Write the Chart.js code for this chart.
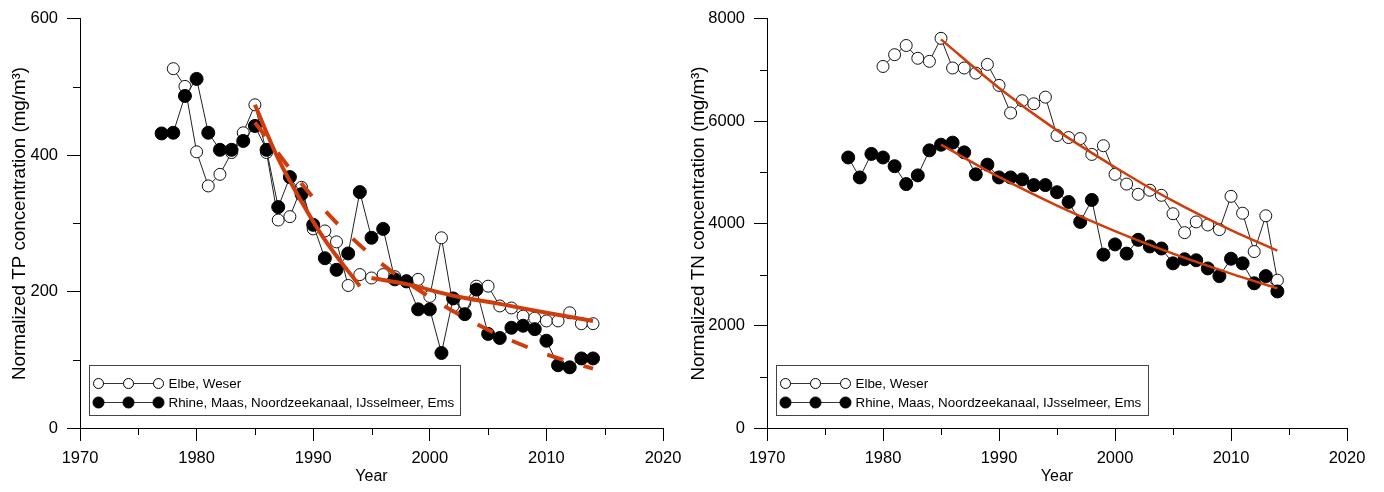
<!DOCTYPE html>
<html>
<head>
<meta charset="utf-8">
<script src="https://cdn.jsdelivr.net/npm/chart.js@4.4.1/dist/chart.umd.min.js"></script>
<style>
  html, body { margin: 0; padding: 0; background: #fff; }
  body { width: 1384px; height: 492px; position: relative; overflow: hidden; }
  canvas { position: absolute; top: 0; }
  #tp { left: 0px; }
  #tn { left: 680px; }
</style>
</head>
<body>
<canvas id="tp" width="690" height="492"></canvas>
<canvas id="tn" width="704" height="492"></canvas>
<script>
// ---------------- DATA ----------------
const legendLabels = ['Elbe, Weser', 'Rhine, Maas, Noordzeekanaal, IJsselmeer, Ems'];

// TP (left panel)
const tpElbeYears = [1978,1979,1980,1981,1982,1983,1984,1985,1986,1987,1988,1989,1990,1991,1992,1993,1994,1995,1996,1997,1998,1999,2000,2001,2002,2003,2004,2005,2006,2007,2008,2009,2010,2011,2012,2013,2014];
const tpElbe = [527,501,405,355,372,404,433,474,404,305,310,353,292,289,273,209,225,220,225,222,216,218,193,279,179,183,208,208,179,176,164,161,157,157,169,153,153];
const tpRhineYears = [1977,1978,1979,1980,1981,1982,1983,1984,1985,1986,1987,1988,1989,1990,1991,1992,1993,1994,1995,1996,1997,1998,1999,2000,2001,2002,2003,2004,2005,2006,2007,2008,2009,2010,2011,2012,2013,2014];
const tpRhine = [432,433,487,512,433,408,408,421,443,408,324,368,343,298,249,232,256,346,279,292,218,215,174,174,110,190,167,203,138,132,147,150,145,128,92,89,102,102];
// trend lines (TP)
const tpTrend1Years = [1985,1987,1989,1991,1994];
const tpTrend1 = [474,395,332,276,208];
const tpTrend2Years = [1995,1998,2002,2006,2010,2014];
const tpTrend2 = [220,211,194,182,169,157];
const tpTrendDashYears = [1985,1990,1995,2000,2005,2010,2014];
const tpTrendDash = [448,338,253,192,144,108,87];

// TN (right panel)
const tnElbeYears = [1980,1981,1982,1983,1984,1985,1986,1987,1988,1989,1990,1991,1992,1993,1994,1995,1996,1997,1998,1999,2000,2001,2002,2003,2004,2005,2006,2007,2008,2009,2010,2011,2012,2013,2014];
const tnElbe = [7070,7300,7480,7230,7170,7620,7040,7040,6940,7110,6700,6160,6400,6340,6470,5720,5680,5660,5350,5520,4960,4770,4570,4650,4550,4190,3820,4030,3970,3880,4530,4200,3450,4150,2890];
const tnRhineYears = [1977,1978,1979,1980,1981,1982,1983,1984,1985,1986,1987,1988,1989,1990,1991,1992,1993,1994,1995,1996,1997,1998,1999,2000,2001,2002,2003,2004,2005,2006,2007,2008,2009,2010,2011,2012,2013,2014];
const tnRhine = [5290,4900,5360,5290,5120,4770,4940,5430,5540,5580,5390,4960,5150,4900,4900,4860,4750,4750,4610,4420,4030,4460,3390,3590,3410,3680,3550,3510,3220,3300,3280,3120,2970,3310,3220,2830,2970,2670];
const tnTrendElbeYears = [1985,1990,1995,2000,2005,2010,2014];
const tnTrendElbe = [7600,6650,5820,5100,4440,3870,3470];
const tnTrendRhineYears = [1985,1990,1995,2000,2005,2010,2014];
const tnTrendRhine = [5540,4910,4350,3850,3410,3020,2730];

// axes ticks
const xMajorStep = 10;
const xMinorTicks = [1975,1985,1995,2005,2015];
const tpMinorTicks = [100,300,500];
const tnMinorTicks = [1000,3000,5000,7000];

// ---------------- STYLE ----------------
const FONT = "'Liberation Sans', Arial, Helvetica, sans-serif";
const RED = '#CF3D0C';
Chart.defaults.font.family = FONT;
Chart.defaults.color = '#000';

const xy = (xs, ys) => xs.map((x, i) => ({x: x, y: ys[i]}));

const decor = {
  id: 'decor',
  afterDraw(chart, args, opts) {
    const ctx = chart.ctx;
    const {left, bottom} = chart.chartArea;
    const xs = chart.scales.x, ys = chart.scales.y;
    ctx.save();
    ctx.strokeStyle = '#000';
    ctx.lineWidth = 1;
    ctx.beginPath();
    opts.xMinor.forEach(v => {
      const px = Math.round(xs.getPixelForValue(v)) + 0.5;
      ctx.moveTo(px, bottom); ctx.lineTo(px, bottom + 7);
    });
    opts.yMinor.forEach(v => {
      const py = Math.round(ys.getPixelForValue(v)) + 0.5;
      ctx.moveTo(left, py); ctx.lineTo(left - 7, py);
    });
    ctx.stroke();

    // legend box
    const bx = Math.round(left + 9) + 0.5, by = Math.round(bottom - 63) + 0.5;
    const bw = opts.legendWidth, bh = 50;
    ctx.fillStyle = '#fff';
    ctx.fillRect(bx, by, bw, bh);
    ctx.strokeStyle = '#444';
    ctx.strokeRect(bx, by, bw, bh);
    const rows = [by + 18, by + 37];
    const mx = [bx + 9, bx + 39, bx + 69];
    rows.forEach((ry, r) => {
      ctx.strokeStyle = '#333';
      ctx.lineWidth = 1;
      ctx.beginPath(); ctx.moveTo(mx[0], ry); ctx.lineTo(mx[2], ry); ctx.stroke();
      mx.forEach(cx => {
        ctx.beginPath();
        ctx.arc(cx, ry, r === 0 ? 5 : 5.5, 0, Math.PI * 2);
        ctx.fillStyle = r === 0 ? '#fff' : '#000';
        ctx.fill();
        ctx.strokeStyle = '#000';
        ctx.stroke();
      });
      ctx.fillStyle = '#000';
      ctx.font = '13.4px ' + FONT;
      ctx.textBaseline = 'middle';
      ctx.textAlign = 'left';
      ctx.fillText(legendLabels[r], bx + 79, ry + 0.5);
    });
    ctx.restore();
  }
};

function makeChart(id, cfg) {
  const datasets = [
    ...cfg.trends.map(t => ({
      data: xy(t.years, t.vals),
      borderColor: RED,
      borderWidth: t.width,
      borderDash: t.dash || [],
      pointRadius: 0,
      cubicInterpolationMode: 'monotone',
      fill: false,
      borderCapStyle: 'butt'
    })),
    {
      data: xy(cfg.rhineYears, cfg.rhine),
      borderColor: '#222', borderWidth: 1,
      pointRadius: 6.5, pointBackgroundColor: '#000', pointBorderColor: '#000', pointBorderWidth: 1,
      fill: false
    },
    {
      data: xy(cfg.elbeYears, cfg.elbe),
      borderColor: '#222', borderWidth: 1,
      pointRadius: 6, pointBackgroundColor: '#fff', pointBorderColor: '#111', pointBorderWidth: 1,
      fill: false
    }
  ];
  return new Chart(document.getElementById(id), {
    type: 'line',
    data: { datasets },
    options: {
      responsive: false,
      animation: false,
      events: [],
      layout: { padding: { left: 0, right: cfg.padRight, top: 15, bottom: 0 } },
      plugins: {
        legend: { display: false },
        tooltip: { enabled: false },
        decor: { xMinor: xMinorTicks, yMinor: cfg.yMinor, legendWidth: cfg.legendWidth }
      },
      scales: {
        x: {
          type: 'linear', min: 1970, max: 2020,
          afterFit: s => { s.height = 64; },
          ticks: { stepSize: xMajorStep, font: { size: 16.5 }, padding: 8, color: '#000',
                   callback: v => String(v), maxRotation: 0 },
          grid: { display: true, drawOnChartArea: false, drawTicks: true, tickLength: 13, color: '#000' },
          border: { display: true, color: '#000', width: 1 },
          title: { display: true, text: 'Year', font: { size: 16 }, color: '#000', padding: { top: 0, bottom: 6 } }
        },
        y: {
          type: 'linear', min: 0, max: cfg.yMax,
          afterFit: s => { s.width = cfg.yWidth; },
          ticks: { stepSize: cfg.yStep, font: { size: 16.5 }, padding: 9, color: '#000',
                   callback: v => String(v) },
          grid: { display: true, drawOnChartArea: false, drawTicks: true, tickLength: 13, color: '#000' },
          border: { display: true, color: '#000', width: 1 },
          title: { display: true, text: cfg.yTitle, font: { size: 18.8 }, color: '#000', padding: { top: cfg.titlePad, bottom: 0 } }
        }
      }
    },
    plugins: [decor]
  });
}

makeChart('tp', {
  elbeYears: tpElbeYears, elbe: tpElbe, rhineYears: tpRhineYears, rhine: tpRhine,
  trends: [
    { years: tpTrend1Years, vals: tpTrend1, width: 4 },
    { years: tpTrend2Years, vals: tpTrend2, width: 4 },
    { years: tpTrendDashYears, vals: tpTrendDash, width: 4, dash: [17, 21] }
  ],
  yMax: 600, yStep: 200, yMinor: tpMinorTicks,
  yTitle: 'Normalized TP concentration (mg/m³)',
  yWidth: 80, padRight: 27, titlePad: 9, legendWidth: 371
});

makeChart('tn', {
  elbeYears: tnElbeYears, elbe: tnElbe, rhineYears: tnRhineYears, rhine: tnRhine,
  trends: [
    { years: tnTrendElbeYears, vals: tnTrendElbe, width: 2.5 },
    { years: tnTrendRhineYears, vals: tnTrendRhine, width: 2.5 }
  ],
  yMax: 8000, yStep: 2000, yMinor: tnMinorTicks,
  yTitle: 'Normalized TN concentration (mg/m³)',
  yWidth: 87, padRight: 37, titlePad: 8, legendWidth: 372
});
</script>
</body>
</html>
